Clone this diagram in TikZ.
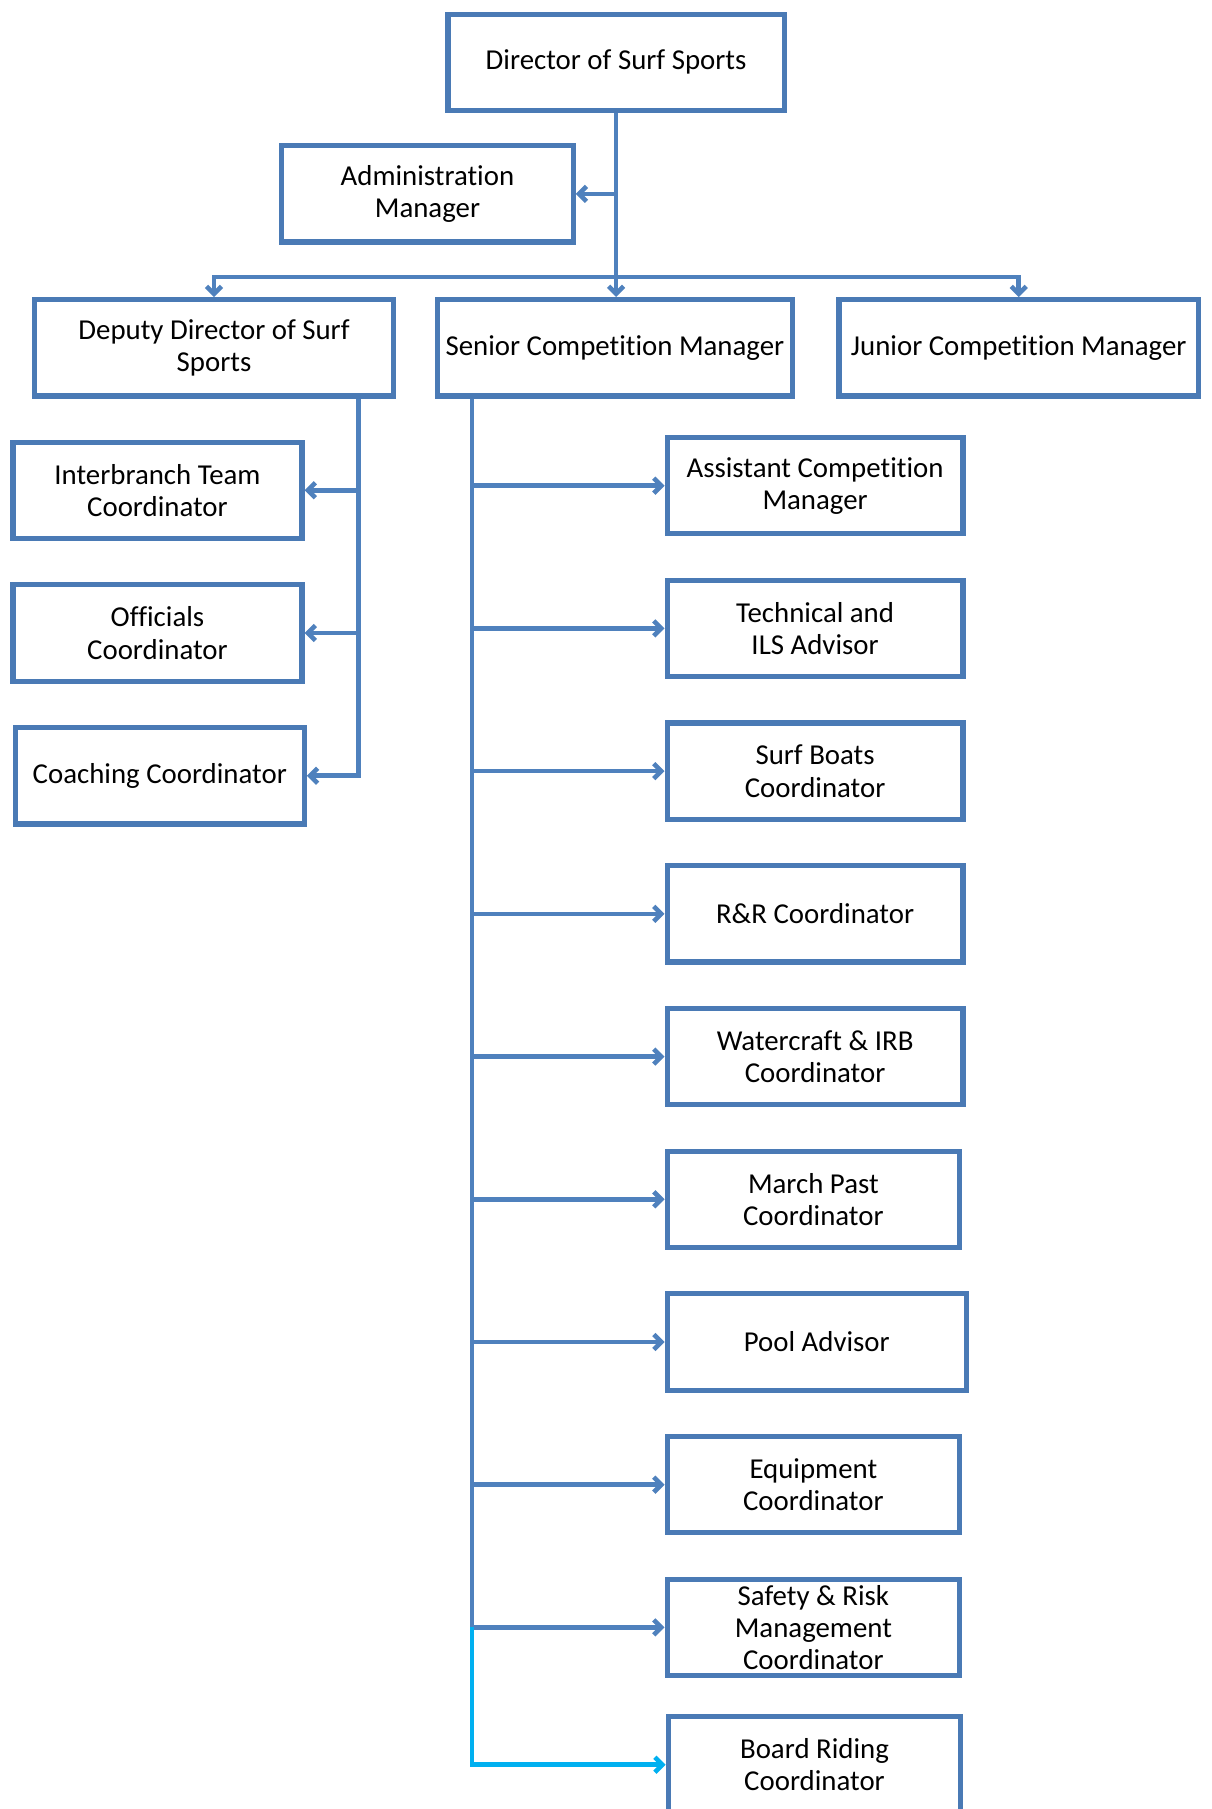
\documentclass[tikz,border=0pt]{standalone}
\usepackage{fontspec}
\setmainfont{Carlito}[Ligatures=NoCommon]
\usetikzlibrary{arrows.meta, positioning}
\definecolor{boxblue}{HTML}{4A7AB5}
\definecolor{linkblue}{HTML}{4F81BD}
\definecolor{lastcyan}{HTML}{00B0F0}

\begin{document}
\begin{tikzpicture}[
  x=1pt, y=-1pt,
  node distance=35.7pt,
  role/.style={draw=boxblue, line width=4.5pt, align=center,
               font=\fontsize{25}{28}\selectfont,
               minimum height=83.5pt, inner sep=2pt},
  conn/.style={draw=linkblue, line width=4pt,
               -{Straight Barb[length=6.5pt, width=13pt]}},
  >={Straight Barb[]}
]
\useasboundingbox (0,0) rectangle (1050,1568);
\clip (0,0) rectangle (1050,1568);

% top of the chart
\node[role, minimum width=291.5pt] (dir) at (534,54) {Director of Surf Sports};
\node[role, minimum width=252.5pt] (adm) at (370.5,168) {Administration\\Manager};
\node[role, minimum width=310.5pt] (dep) at (185.5,301.5) {Deputy Director of Surf\\Sports};
\node[role, minimum width=307.5pt] (sen) at (533,301.5) {Senior Competition Manager};
\node[role, minimum width=311.5pt] (jun) at (883,301.5) {Junior Competition Manager};

% deputy's team
\node[role, minimum width=250.5pt] (inter) at (136.5,425) {Interbranch Team\\Coordinator};
\node[role, minimum width=250.5pt, below=of inter] (offi) {Officials\\Coordinator};
\node[role, minimum width=250.5pt, below=of offi, xshift=2pt] (coach) {Coaching Coordinator};

% senior's team
\node[role, minimum width=256.5pt] (asst) at (706.5,421) {Assistant Competition\\Manager};
\node[role, minimum width=256.5pt, below=of asst] (tech) {Technical and\\ILS Advisor};
\node[role, minimum width=256.5pt, below=of tech] (boats) {Surf Boats\\Coordinator};
\node[role, minimum width=256.5pt, below=of boats] (rr) {R\&R Coordinator};
\node[role, minimum width=256.5pt, below=of rr] (craft) {Watercraft \& IRB\\Coordinator};
\node[role, minimum width=253.5pt, below=of craft, xshift=-1.5pt] (march) {March Past\\Coordinator};
\node[role, minimum width=259.5pt, below=of march, xshift=3pt] (pool) {Pool Advisor};
\node[role, minimum width=253.5pt, below=of pool, xshift=-3pt] (equip) {Equipment\\Coordinator};
\node[role, minimum width=253.5pt, below=of equip] (safety) {Safety \& Risk\\Management\\Coordinator};
\node[role, minimum width=253.5pt, below=31pt of safety, xshift=1pt] (board) {Board Riding\\Coordinator};

% connectors
\coordinate (bar) at (534,240);
\draw[conn] (dir.south) -- (dir.south |- sen.north);
\draw[conn] (dir.south |- adm.east) -- (adm.east);
\draw[conn] (bar) -| (dep);
\draw[conn] (bar) -| (jun);

\coordinate (dtrunk) at (311,346);
\draw[conn] (dtrunk) |- (coach);
\draw[conn] (dtrunk |- inter.east) -- (inter.east);
\draw[conn] (dtrunk |- offi.east) -- (offi.east);

\coordinate (strunk) at (409,346);
\draw[draw=linkblue, line width=4pt] (strunk) -- (strunk |- safety.west);
\foreach \n in {asst,tech,boats,rr,craft,march,pool,equip,safety}
  \draw[conn] (strunk |- \n.west) -- (\n.west);
\draw[conn, draw=lastcyan] (strunk |- safety.west) |- (board);
\end{tikzpicture}
\end{document}
